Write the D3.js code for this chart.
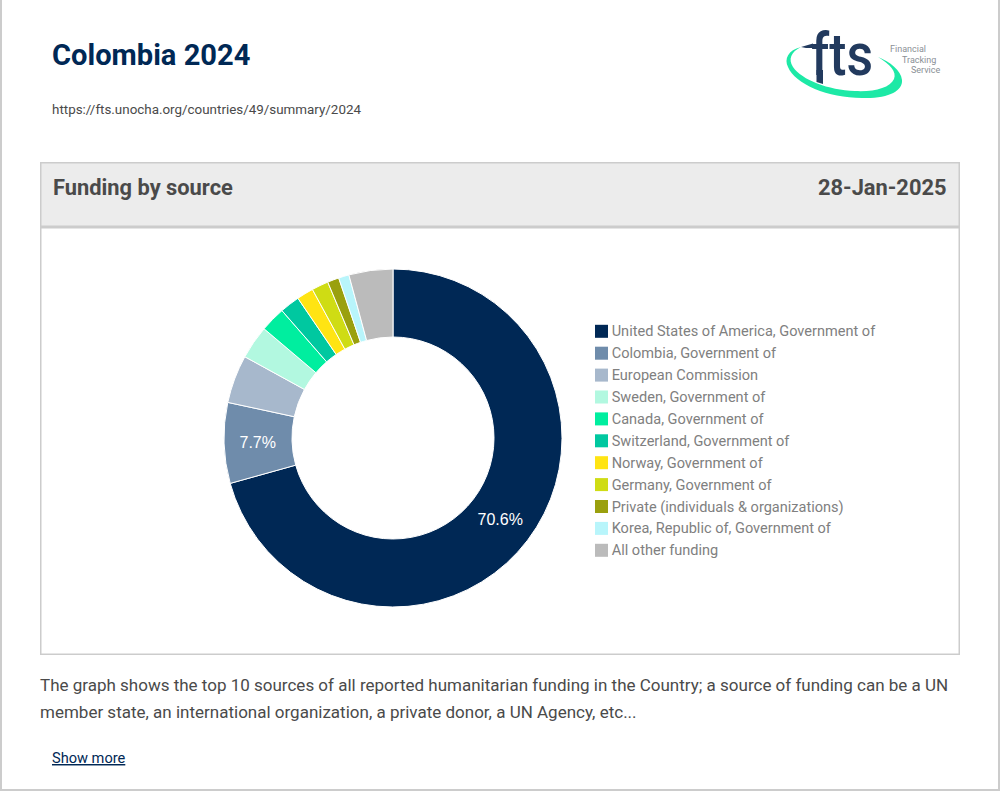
<!DOCTYPE html>
<html>
<head>
<meta charset="utf-8">
<script src="https://cdn.jsdelivr.net/npm/d3@7"></script>
<style>
  html, body { margin: 0; padding: 0; background: #fff; }
  svg { display: block; }
  text { font-family: Roboto, sans-serif; }
</style>
</head>
<body>
<div id="chart"></div>
<script>
// values (percent of funding)
var sources = ["United States of America, Government of", "Colombia, Government of", "European Commission",
  "Sweden, Government of", "Canada, Government of", "Switzerland, Government of", "Norway, Government of",
  "Germany, Government of", "Private (individuals & organizations)", "Korea, Republic of, Government of", "All other funding"];
var shares = [70.6, 7.7, 4.6, 3.2, 2.4, 1.9, 1.6, 1.6, 1.1, 1.0, 4.2];
var palette = ["#002855", "#6f8cab", "#a7b8cc", "#b2f8e0", "#00ee9f", "#00c8a0", "#ffe413", "#cfdc14", "#9aa00e", "#b8f5fb", "#bbbbbb"];

var width = 1000, height = 791;

var svg = d3.select("#chart").append("svg")
    .attr("width", width)
    .attr("height", height);

// page frame
svg.append("path")
    .attr("d", "M1,0V790H999V0")
    .attr("fill", "none")
    .attr("stroke", "#cccccc")
    .attr("stroke-width", 2);

// page heading
svg.append("text").attr("x", 52).attr("y", 65)
    .attr("font-size", 29.1).attr("font-weight", 700).attr("fill", "#002855")
    .text("Colombia 2024");
svg.append("text").attr("x", 52).attr("y", 114)
    .attr("font-size", 13.4).attr("fill", "#4a4a4a")
    .text("https://fts.unocha.org/countries/49/summary/2024");

// logo
var logo = svg.append("g");
logo.append("path")
    .attr("fill", "#1de9a6")
    .attr("d", "M801,47C788,50 784,59 788,67C795,84 828,98 862,98C888,99 903,91 902,80C901,70 890,62 878,57C890,64 897,72 894,79C890,88 874,92 855,91C828,90 802,80 793,67C788,59 791,52 801,47Z");
logo.append("text").attr("x", 811).attr("y", 75)
    .attr("font-size", 60).attr("font-weight", 500).attr("fill", "#223a5e")
    .attr("textLength", 62).attr("lengthAdjust", "spacingAndGlyphs")
    .text("fts");
// long f stem and the bar running out to the swoosh
logo.append("path")
    .attr("fill", "#223a5e")
    .attr("d", "M816.5,70H823V84L816.5,82ZM801,47L813,43.5V48H806Z");
logo.selectAll("text.tag")
    .data([["Financial", 890, 52], ["Tracking", 902, 63], ["Service", 911, 73]])
  .enter().append("text")
    .attr("class", "tag")
    .attr("x", function(d) { return d[1]; })
    .attr("y", function(d) { return d[2]; })
    .attr("font-size", 9).attr("fill", "#8a8f96")
    .text(function(d) { return d[0]; });

// panel
svg.append("rect").attr("x", 40.75).attr("y", 162.75).attr("width", 918.5).attr("height", 491.5)
    .attr("fill", "#fff").attr("stroke", "#cccccc").attr("stroke-width", 1.5);
svg.append("rect").attr("x", 40.75).attr("y", 162.75).attr("width", 918.5).attr("height", 64)
    .attr("fill", "#ececec").attr("stroke", "#cccccc").attr("stroke-width", 1.5);
svg.append("line").attr("x1", 41).attr("x2", 959).attr("y1", 227).attr("y2", 227)
    .attr("stroke", "#cccccc").attr("stroke-width", 3);
svg.append("text").attr("x", 53).attr("y", 194.5)
    .attr("font-size", 21.85).attr("font-weight", 700).attr("fill", "#4a4a4a")
    .text("Funding by source");
svg.append("text").attr("x", 946.5).attr("y", 194.5).attr("text-anchor", "end")
    .attr("font-size", 21.85).attr("font-weight", 700).attr("fill", "#4a4a4a")
    .text("28-Jan-2025");

// donut
var color = d3.scaleOrdinal().domain(sources).range(palette);
var pie = d3.pie().sort(null).value(function(d, i) { return shares[i]; });
var arc = d3.arc().innerRadius(101).outerRadius(169);

var donut = svg.append("g").attr("transform", "translate(393,438)");
var slices = donut.selectAll("g").data(pie(sources)).enter().append("g");

slices.append("path")
    .attr("d", arc)
    .attr("fill", function(d) { return color(d.data); })
    .attr("stroke", "#fff")
    .attr("stroke-width", 1);

// only the big slices get a label
slices.filter(function(d) { return d.value > 5; })
  .append("text")
    .attr("transform", function(d) { return "translate(" + arc.centroid(d) + ")"; })
    .attr("dx", -0.3)
    .attr("dy", "0.35em")
    .attr("text-anchor", "middle")
    .attr("font-size", 16)
    .style("font-family", "'Liberation Sans', Arial, sans-serif")
    .attr("fill", "#fff")
    .text(function(d) { return d.value.toFixed(1) + "%"; });

// legend
var legendY = d3.scalePoint().domain(sources).range([331.3, 550.3]);
var legend = svg.selectAll("g.legend").data(sources).enter().append("g")
    .attr("class", "legend")
    .attr("transform", function(d) { return "translate(595," + legendY(d) + ")"; });
legend.append("rect")
    .attr("y", -6.5).attr("width", 13).attr("height", 13)
    .attr("fill", function(d) { return color(d); });
legend.append("text")
    .attr("x", 16.7).attr("dy", "0.35em")
    .attr("font-size", 14.55).attr("fill", "#808080")
    .text(function(d) { return d; });

// footer note
svg.selectAll("text.note")
    .data(["The graph shows the top 10 sources of all reported humanitarian funding in the Country; a source of funding can be a UN",
           "member state, an international organization, a private donor, a UN Agency, etc..."])
  .enter().append("text")
    .attr("class", "note")
    .attr("x", 40)
    .attr("y", function(d, i) { return 691 + i * 27; })
    .attr("font-size", 17).attr("fill", "#4a4a4a")
    .text(function(d) { return d; });
svg.append("text").attr("x", 52).attr("y", 763)
    .attr("font-size", 14.6).attr("fill", "#002855")
    .attr("text-decoration", "underline")
    .text("Show more");
</script>
</body>
</html>
